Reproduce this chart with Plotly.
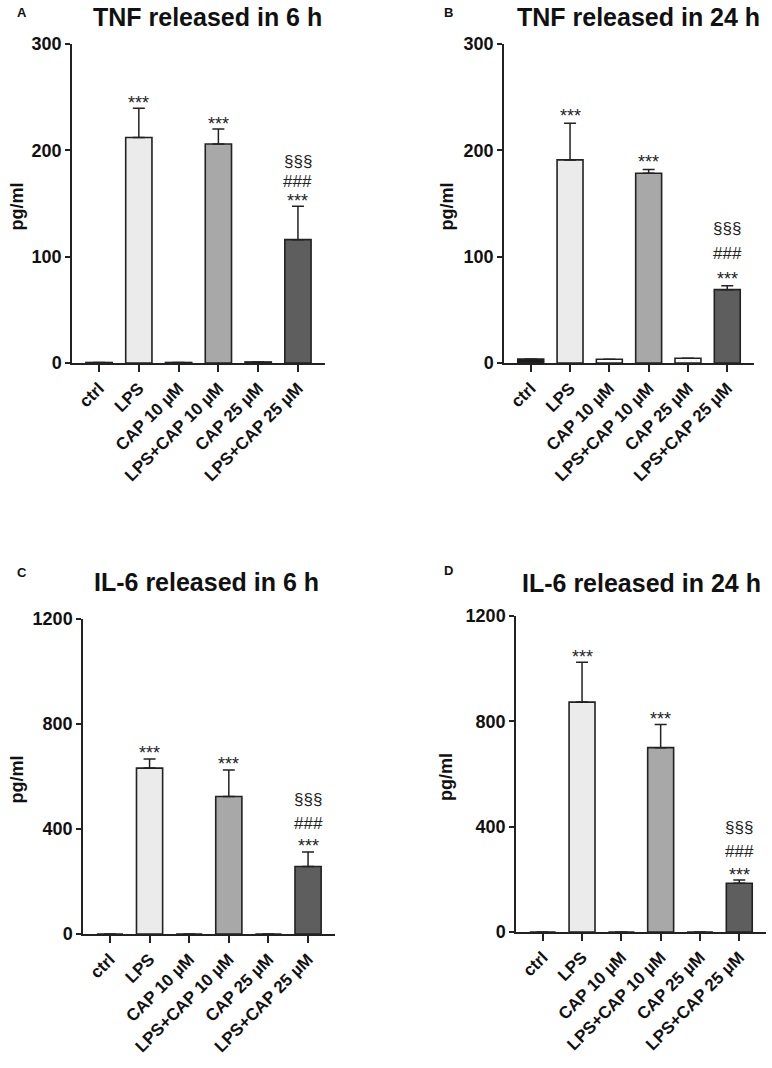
import plotly.graph_objects as go

# groups on the x axis
groups = ["ctrl", "LPS", "CAP 10 µM", "LPS+CAP 10 µM", "CAP 25 µM", "LPS+CAP 25 µM"]

# mean values (pg/ml) and upper error (SEM)
tnf_6h = [0.5, 212, 0.5, 206, 1, 116]
tnf_6h_err = [None, 27.5, None, 14, None, 31.5]
tnf_24h = [3.8, 191, 3.5, 178.5, 4.5, 69]
tnf_24h_err = [None, 34.5, None, 3.5, None, 3.7]
il6_6h = [0, 632, 0, 524, 0, 257]
il6_6h_err = [None, 35, None, 101, None, 55]
il6_24h = [0, 873, 0, 700, 0, 185]
il6_24h_err = [None, 151, None, 88, None, 12]

# significance marks stacked above each bar (bottom to top)
sig_6h = [[], ["***"], [], ["***"], [], ["***", "###", "§§§"]]
sig_24h = [[], ["***"], [], ["***"], [], ["***", "###", "§§§"]]

tnf_ticks = [0, 100, 200, 300]
il6_ticks = [0, 400, 800, 1200]

bar_colors = ["#1c1c1c", "#ebebeb", "#ffffff", "#a8a8a8", "#e6e6e6", "#5e5e5e"]

W, H = 772, 1068
FONT = "Arial, Liberation Sans, sans-serif"
AX = "#222222"


def px(x):
    return x / W


def py(y):
    return 1 - y / H


# panel layout in pixels: x0, x1, y_top, y_bottom, title centre, letter pos, ylabel x
panels = [
    dict(letter="A", title="TNF released in 6 h", y=tnf_6h, err=tnf_6h_err, sig=sig_6h,
         ticks=tnf_ticks, box=(72, 325, 44, 363), tpos=(207, 17), lpos=(22, 13), ylx=16,
         offs=[10, 25, 45]),
    dict(letter="B", title="TNF released in 24 h", y=tnf_24h, err=tnf_24h_err, sig=sig_24h,
         ticks=tnf_ticks, box=(504, 754, 44, 363), tpos=(638, 17), lpos=(449, 12), ylx=446,
         offs=[12, 32, 57]),
    dict(letter="C", title="IL-6 released in 6 h", y=il6_6h, err=il6_6h_err, sig=sig_6h,
         ticks=il6_ticks, box=(83, 335, 619, 934), tpos=(206, 582), lpos=(22, 572), ylx=16,
         offs=[11, 29, 53]),
    dict(letter="D", title="IL-6 released in 24 h", y=il6_24h, err=il6_24h_err, sig=sig_24h,
         ticks=il6_ticks, box=(516, 766, 616, 932), tpos=(641, 583), lpos=(449, 570), ylx=446,
         offs=[10, 29, 53]),
]

fig = go.Figure()
annotations = []
layout = {}

for i, p in enumerate(panels):
    n = "" if i == 0 else str(i + 1)
    x0, x1, yt, yb = p["box"]
    fig.add_trace(go.Bar(
        x=groups, y=p["y"], width=0.66,
        marker=dict(color=bar_colors, line=dict(color=AX, width=1.6),
                    pattern=dict(shape=["", "", "", "", "x", ""], size=4,
                                 fgcolor="#555555", solidity=0.3)),
        error_y=dict(type="data", symmetric=False, array=p["err"],
                     arrayminus=[0] * len(groups), color=AX, thickness=1.5, width=6),
        xaxis="x" + n, yaxis="y" + n, showlegend=False,
    ))
    layout["xaxis" + n] = dict(
        domain=[px(x0), px(x1)], anchor="y" + n, type="category", automargin=False,
        range=[-0.68, 5.68], showline=True, linecolor=AX, linewidth=1.5,
        ticks="outside", ticklen=7, tickwidth=1.5, tickcolor=AX, tickangle=-45,
        tickfont=dict(family=FONT, size=17, color="#111", weight="bold"),
        showgrid=False, zeroline=False, fixedrange=True,
    )
    layout["yaxis" + n] = dict(
        domain=[py(yb), py(yt)], anchor="x" + n, automargin=False,
        range=[0, p["ticks"][-1]], tickvals=p["ticks"],
        showline=True, linecolor=AX, linewidth=1.5,
        ticks="outside", ticklen=5, tickwidth=1.5, tickcolor=AX,
        tickfont=dict(family=FONT, size=18, color="#111", weight="bold"),
        showgrid=False, zeroline=False, fixedrange=True,
    )
    # title, panel letter and y label
    annotations.append(dict(text=p["title"], x=px(p["tpos"][0]), y=py(p["tpos"][1]),
                            xref="paper", yref="paper", showarrow=False,
                            xanchor="center", yanchor="middle",
                            font=dict(family=FONT, size=25, color="#111", weight="bold")))
    annotations.append(dict(text=p["letter"], x=px(p["lpos"][0]), y=py(p["lpos"][1]),
                            xref="paper", yref="paper", showarrow=False,
                            xanchor="center", yanchor="middle",
                            font=dict(family=FONT, size=13, color="#111", weight="bold")))
    annotations.append(dict(text="pg/ml", x=px(p["ylx"]), y=py((yt + yb) / 2 + 3),
                            xref="paper", yref="paper", showarrow=False, textangle=-90,
                            xanchor="center", yanchor="middle",
                            font=dict(family=FONT, size=18, color="#111", weight="bold")))
    # significance marks
    for g, v, e, marks in zip(groups, p["y"], p["err"], p["sig"]):
        top = v + (e or 0)
        for k, m in enumerate(marks):
            star = m == "***"
            annotations.append(dict(
                text=m, x=g, y=top, xref="x" + n, yref="y" + n, showarrow=False,
                xanchor="center", yanchor="middle",
                yshift=p["offs"][k] - (5 if star else 0),
                font=dict(family=FONT, size=18 if star else 17, color="#222"),
            ))

fig.update_layout(
    template="none", width=W, height=H, margin=dict(l=0, r=0, t=0, b=0),
    paper_bgcolor="white", plot_bgcolor="white",
    annotations=annotations, bargap=0.3, **layout,
)

# drop the default 8px page margin so the figure fills the window
fig.write_html("out.html", config={"displayModeBar": False},
               post_script="document.body.style.margin = '0';")
